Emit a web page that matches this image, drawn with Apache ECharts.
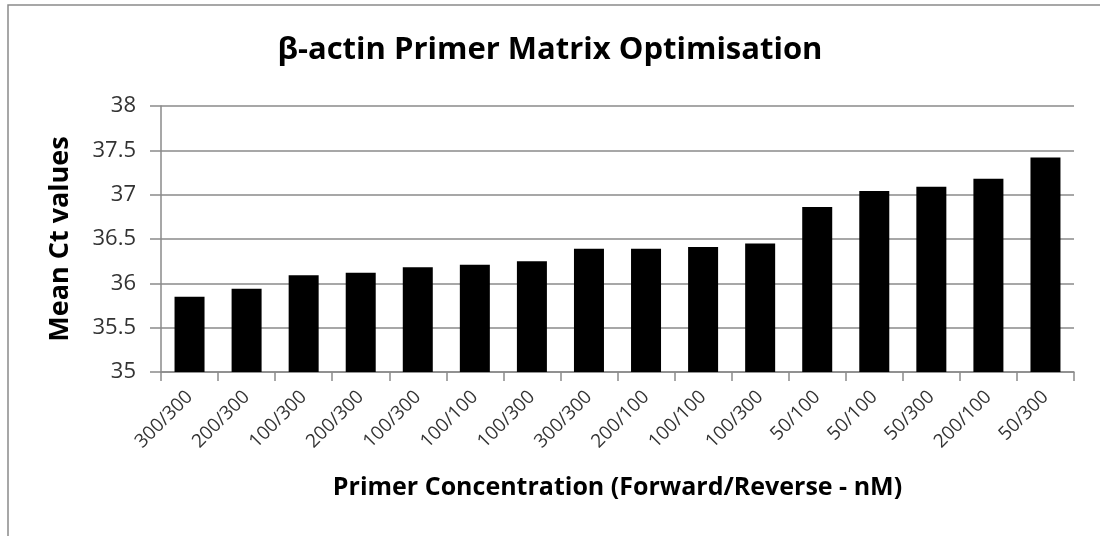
<!DOCTYPE html>
<html>
<head>
<meta charset="utf-8">
<script src="https://cdn.jsdelivr.net/npm/echarts@6/dist/echarts.min.js"></script>
<style>
	html, body { margin: 0; padding: 0; background: #fff; }
	#chart { width: 1100px; height: 536px; }
</style>
</head>
<body>
<div id="chart"></div>
<script>
	// primer pairs (forward/reverse, nM), in plotted order
	var primerLabels = ['300/300','200/300','100/300','200/300','100/300','100/100','100/300','300/300',
		'200/100','100/100','100/300','50/100','50/100','50/300','200/100','50/300'];
	// mean Ct
	var meanCt = [35.85, 35.94, 36.09, 36.12, 36.18, 36.21, 36.25, 36.39,
		36.39, 36.41, 36.45, 36.86, 37.04, 37.09, 37.18, 37.42];
	var yTicks = { min: 35, max: 38, step: 0.5 };

	var chart = echarts.init(document.getElementById('chart'));
	var gridColor = '#8a8a8a';
	var font = '"Open Sans", "Liberation Sans", sans-serif';

	var option = {
		animation: false,
		backgroundColor: '#fff',
		title: {
			text: 'β-actin Primer Matrix Optimisation',
			left: 'center',
			top: 30,
			textStyle: {
				fontFamily: font,
				fontSize: 31,
				fontWeight: 'bold',
				color: '#000'
			}
		},
		// chart frame, only left and top edges are in view
		graphic: [{
			type: 'polyline',
			shape: { points: [[8, 536], [8, 5], [1100, 5]] },
			style: { stroke: '#8a8a8a', lineWidth: 1.5, fill: null }
		}],
		grid: {
			left: 161,
			right: 26,
			top: 106,
			bottom: 164
		},
		xAxis: {
			type: 'category',
			data: primerLabels,
			name: 'Primer Concentration (Forward/Reverse - nM)',
			nameLocation: 'middle',
			nameGap: 103,
			nameTextStyle: {
				fontFamily: font,
				fontSize: 25,
				fontWeight: 'bold',
				color: '#000'
			},
			axisLine: { lineStyle: { color: gridColor, width: 1.5 } },
			axisTick: { show: true, length: 9, lineStyle: { color: gridColor, width: 1.5 } },
			axisLabel: {
				rotate: 45,
				margin: 22,
				fontFamily: font,
				fontSize: 19,
				color: '#333'
			}
		},
		yAxis: {
			type: 'value',
			min: yTicks.min,
			max: yTicks.max,
			interval: yTicks.step,
			name: 'Mean Ct values',
			nameLocation: 'middle',
			nameGap: 87,
			nameTextStyle: {
				fontFamily: font,
				fontSize: 27,
				fontWeight: 'bold',
				color: '#000'
			},
			axisLine: { show: true, lineStyle: { color: gridColor, width: 1.5 } },
			axisTick: { show: true, length: 11, inside: false, lineStyle: { color: gridColor, width: 1.5 } },
			splitLine: { lineStyle: { color: gridColor, width: 1.5 } },
			axisLabel: {
				margin: 25,
				fontFamily: font,
				fontSize: 22,
				color: '#333'
			}
		},
		series: [{
			name: 'Mean Ct',
			type: 'bar',
			data: meanCt,
			barWidth: 30,
			itemStyle: { color: '#000' }
		}]
	};
	chart.setOption(option);
</script>
</body>
</html>
